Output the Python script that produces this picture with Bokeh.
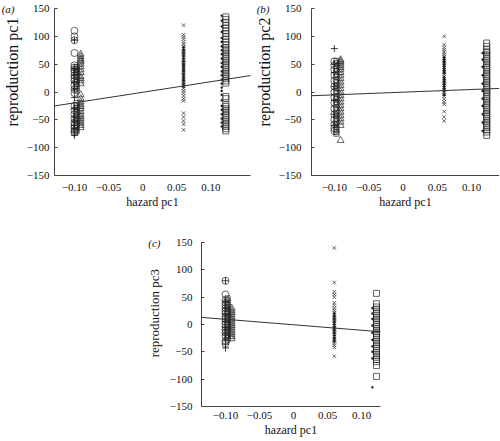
from bokeh.plotting import figure
from bokeh.models import FixedTicker, CustomJSTickFormatter, Slope, LinearAxis, Range1d, Spacer
from bokeh.layouts import column, row
from bokeh.embed import file_html
from bokeh.resources import INLINE

# ---------------- data ----------------
# x positions (hazard pc1) of the groups
hz_circle = -0.100
hz_plus = -0.100
hz_smallsq = -0.097
hz_tri = -0.091
hz_cross = 0.060
hz_dot_mid = 0.060
hz_square = 0.122
hz_dot_right = 0.116

y_ticks = [-150, -100, -50, 0, 50, 100, 150]
y_limits = (-150.05, 150.05)
x_ticks = [-0.10, -0.05, 0.0, 0.05, 0.10]
panel_letters = ["(a)", "(b)", "(c)"]
y_titles = ["reproduction pc1", "reproduction pc2", "reproduction pc3"]
x_title = "hazard pc1"

# panel (a): reproduction pc1
a_circle = [110, 100, 93, 70, 48, 44, 40, 36, 30, 25, 20, 12, 5, -2, -25, -33, -40, -48, -55, -60, -65, -70, -73]
a_plus = [93, 42, 30, 18, 5, -10, -30, -45, -52, -60, -66, -72, -78]
a_tri = [68, 64, 60, 57, 54, 50, 45, 40, 35, 28, 24, 20, 15, -5, -12, -18, -22, -26, -30, -35, -40, -44, -48, -52, -56, -60, -64]
a_smallsq = [45, 42, 39, 36, 33, 30, 27, 22, 18, 14, 10, 6, 2, -20, -24, -28, -32, -36, -40, -44, -48, -52, -56, -60, -64, -68, -71]
a_cross = [120, 103, 99, 95, 90, 86, 82, 78, 74, 70, 66, 62, 58, 54, 50, 46, 42, 38, 34, 30, 26, 22, 18, 14, 10, 6, 2, -2, -7, -12, -16, -38, -45, -52, -58, -68]
a_dot_mid = [80, 75, 70, 65, 60, 55, 50, 46, 42, 38, 33, 28, 24, 20, 15, 10]
a_square = [135, 130, 125, 120, 115, 110, 105, 100, 95, 90, 85, 80, 76, 72, 68, 64, 60, 56, 52, 48, 44, 40, 36, 32, 28, 24, 20, 16, -8, -12, -22, -26, -30, -34, -38, -42, -46, -50, -54, -58, -62, -66, -70]
a_dot_right = [137, 128, 118, 108, 97, 90, 82, 75, 68, 60, 52, 45, 37, 30, 22, 15, 8, 2, -5, -15, -25, -32, -40, -48, -55, -62]
a_slope, a_intercept = 190, -0.5

# panel (b): reproduction pc2
b_circle = [55, 48, 40, 30, 20, 10, 0, -10, -20, -30, -40, -50, -58, -65, -70]
b_plus = [78, 50, 35, 10, -15, -40, -60]
b_tri = [58, 55, 52, 48, 44, 40, 35, 30, 24, 18, 12, 6, 0, -6, -12, -18, -24, -30, -36, -42, -48, -54, -60, -87]
b_smallsq = [56, 52, 47, 42, 37, 32, 27, 22, 17, 12, 7, 2, -3, -8, -13, -18, -23, -28, -33, -38, -43, -48, -53, -58, -63, -68, -72, -75]
b_cross = [100, 85, 80, 76, 72, 68, 64, 60, 56, 52, 48, 44, 40, 36, 32, 28, 24, 20, 16, 12, 8, 4, 0, -4, -8, -13, -18, -22, -35, -45, -52]
b_dot_mid = [62, 58, 54, 50, 46, 42, 38, 34, 26, 22, 18, 14, 10, 6, 2, -5]
b_square = [88, 82, 76, 72, 68, 64, 60, 56, 52, 48, 44, 40, 36, 32, 28, 24, 20, 16, 12, 8, 4, 0, -4, -8, -12, -16, -20, -24, -28, -32, -36, -40, -44, -48, -52, -56, -60, -64, -68, -72, -78]
b_dot_right = [70, 58, 45, 30, 15, 2, -12, -25, -40, -55, -70]
b_slope, b_intercept = 48, -0.3

# panel (c): reproduction pc3
c_circle = [80, 55, 45, 40, 35, 30, 25, 20, 15, 10, 5, 0, -5, -10, -15, -20, -30, -35]
c_plus = [80, 42, 30, 18, 6, -6, -18, -28, -36, -43]
c_tri = [30, 26, 22, 18, 14, 10, 6, 2, -2, -6, -10, -14, -18, -22, -26]
c_smallsq = [48, 44, 40, 36, 32, 28, 24, 20, 16, 12, 8, 4, 0, -4, -8, -12, -16, -20, -24, -28]
c_cross = [140, 77, 60, 55, 50, 40, 35, 30, 26, 22, 18, 14, 10, 6, 2, -2, -6, -10, -14, -18, -22, -26, -30, -34, -38, -42, -58]
c_dot_mid = [20, 15, 10, 5, 0, -5, -10, -15, -20, -25, -30]
c_square = [57, 38, 32, 28, 24, 20, 16, 12, 8, 4, 0, -4, -8, -12, -16, -20, -24, -28, -32, -36, -40, -44, -48, -52, -56, -60, -64, -68, -75, -95]
c_dot_right = [30, 20, 10, -2, -15, -28, -40, -50, -62, -115]
c_slope, c_intercept = -100, -0.5

# ---------------- styling ----------------
FONT = "Liberation Serif"
INK = "#1e1e1e"
NBSP = "\u00a0"

x_fmt = CustomJSTickFormatter(code="""
if (Math.abs(tick) < 1e-9) { return '0'; }
return (tick < 0 ? '\u2212' : '') + Math.abs(tick).toFixed(2);
""")


def y_formatter():
    return CustomJSTickFormatter(code="""
return (tick < 0 ? '\u2212' : '') + Math.abs(tick).toFixed(0);
""")


def panel(letter, ylabel, xr, width, height, bl, br, bt, bb, y_standoff, letter_standoff, ylabel_standoff,
          ylabel_size, ylabel_pad, x_standoff, xl_standoff, d, slope, intercept):
    p = figure(width=width, height=height, x_range=Range1d(*xr), y_range=Range1d(*y_limits),
               output_backend="svg", toolbar_location=None,
               min_border_left=bl, min_border_right=br, min_border_top=bt, min_border_bottom=bb)
    p.outline_line_color = None
    p.grid.visible = False
    p.background_fill_color = "white"
    p.border_fill_color = "white"

    p.xaxis.ticker = FixedTicker(ticks=x_ticks)
    p.xaxis.formatter = x_fmt
    p.yaxis.ticker = FixedTicker(ticks=y_ticks)
    p.yaxis.formatter = y_formatter()
    p.xaxis.axis_label = x_title

    # outer left axis carrying the panel letter (at the top) and the y-axis title
    outer = LinearAxis(ticker=FixedTicker(ticks=[y_ticks[-1]]),
                       major_label_overrides={y_ticks[-1]: letter},
                       axis_label=NBSP * ylabel_pad + ylabel)
    p.add_layout(outer, "left")

    for ax in (p.xaxis[0], p.yaxis[0], outer):
        ax.axis_line_color = "#444444"
        ax.axis_line_width = 1
        ax.minor_tick_line_color = None
        ax.minor_tick_in = 0
        ax.minor_tick_out = 0
        ax.major_label_text_font = FONT
        ax.major_label_text_font_size = "11px"
        ax.major_label_text_color = "#111111"
        ax.axis_label_text_font = FONT
        ax.axis_label_text_font_style = "normal"
        ax.axis_label_text_color = "#111111"
    p.xaxis.major_tick_line_color = None
    p.xaxis.major_tick_in = 0
    p.xaxis.major_tick_out = 0
    p.xaxis.major_label_standoff = x_standoff
    p.xaxis.axis_label_standoff = xl_standoff
    p.xaxis.axis_label_text_font_size = "12px"

    main_y = p.yaxis[0]
    main_y.major_tick_in = 3
    main_y.major_tick_out = 0
    main_y.major_tick_line_color = "#444444"
    main_y.major_label_standoff = y_standoff

    outer.axis_line_color = None
    outer.major_tick_line_color = None
    outer.major_tick_in = 0
    outer.major_tick_out = 0
    outer.major_label_standoff = letter_standoff
    outer.major_label_text_font_style = "italic"
    outer.axis_label_standoff = ylabel_standoff
    outer.axis_label_text_font_size = ylabel_size

    def add(xpos, vals, marker, size, filled=False, lw=0.8):
        xs = [xpos] * len(vals)
        if filled:
            p.scatter(xs, vals, marker=marker, size=size, fill_color=INK, line_color=INK, line_width=0.3)
        else:
            p.scatter(xs, vals, marker=marker, size=size, fill_color=None, line_color=INK, line_width=lw, line_alpha=0.85)

    add(hz_circle, d["circle"], "circle", 7)
    add(hz_smallsq, d["smallsq"], "square", 5)
    add(hz_tri, d["tri"], "triangle", 7)
    add(hz_plus, d["plus"], "cross", 7, lw=1.0)
    add(hz_cross, d["cross"], "x", 5)
    add(hz_dot_mid, d["dot_mid"], "circle", 2.5, filled=True)
    add(hz_square, d["square"], "square", 6)
    add(hz_dot_right, d["dot_right"], "circle", 2.2, filled=True)

    p.add_layout(Slope(gradient=slope, y_intercept=intercept, line_color="#333333", line_width=1))
    return p


pa = panel(panel_letters[0], y_titles[0], (-0.1293, 0.1582), 252, 211, 51, 2, 8, 35, 5, 9, -22, "16px", 10, 8, 1,
           dict(circle=a_circle, plus=a_plus, tri=a_tri, smallsq=a_smallsq, cross=a_cross,
                dot_mid=a_dot_mid, square=a_square, dot_right=a_dot_right), a_slope, a_intercept)
pb = panel(panel_letters[1], y_titles[1], (-0.1333, 0.1406), 247, 211, 59, 0, 8, 35, 10, 6, -19, "16px", 10, 8, 1,
           dict(circle=b_circle, plus=b_plus, tri=b_tri, smallsq=b_smallsq, cross=b_cross,
                dot_mid=b_dot_mid, square=b_square, dot_right=b_dot_right), b_slope, b_intercept)
pc = panel(panel_letters[2], y_titles[2], (-0.1353, 0.1279), 239, 228, 58, 2, 31, 29, 9, 6, -17, "13px", 7, 5, 1,
           dict(circle=c_circle, plus=c_plus, tri=c_tri, smallsq=c_smallsq, cross=c_cross,
                dot_mid=c_dot_mid, square=c_square, dot_right=c_dot_right), c_slope, c_intercept)

layout = column(row(pa, pb), row(Spacer(width=143, height=228), pc))

open("out.html", "w").write(file_html(layout, INLINE))
